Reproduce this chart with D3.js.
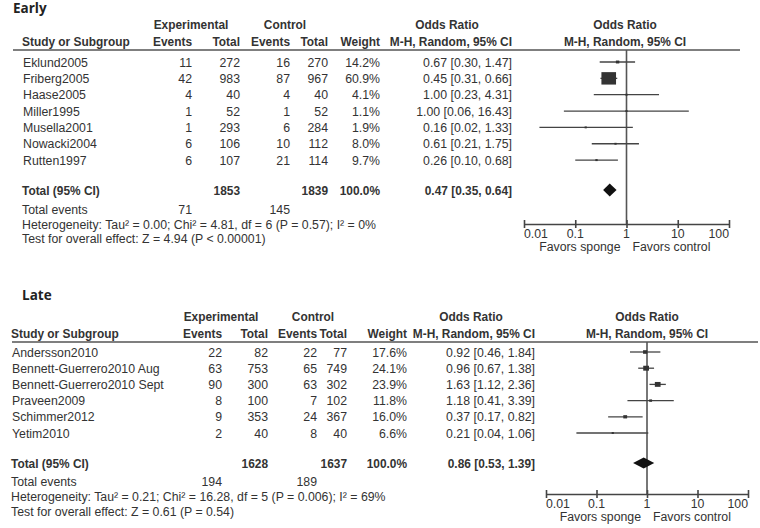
<!DOCTYPE html>
<html>
<head>
<meta charset="utf-8">
<script src="https://cdn.jsdelivr.net/npm/d3@7/dist/d3.min.js"></script>
<style>
body{margin:0;background:#fff;}
svg{display:block;}
text{font-family:"Liberation Sans",Arial,sans-serif;font-size:12.3px;fill:#333;}
.b{font-weight:bold;font-size:11.9px;}
.title{font-family:"Open Sans",sans-serif;font-size:13.5px;font-weight:bold;fill:#222;}
</style>
</head>
<body>
<svg id="chart" width="760" height="528"></svg>
<script>
// ---------- DATA ----------
const earlyStudies = ["Eklund2005","Friberg2005","Haase2005","Miller1995","Musella2001","Nowacki2004","Rutten1997"];
const earlyExpEvents = [11,42,4,1,1,6,6];
const earlyExpTotal = [272,983,40,52,293,106,107];
const earlyCtlEvents = [16,87,4,1,6,10,21];
const earlyCtlTotal = [270,967,40,52,284,112,114];
const earlyWeight = [14.2,60.9,4.1,1.1,1.9,8.0,9.7];
const earlyOR = [0.67,0.45,1.00,1.00,0.16,0.61,0.26];
const earlyLo = [0.30,0.31,0.23,0.06,0.02,0.21,0.10];
const earlyHi = [1.47,0.66,4.31,16.43,1.33,1.75,0.68];
const earlyTotal = {exp:1853, ctl:1839, weight:"100.0%", or:0.47, lo:0.35, hi:0.64, expEv:71, ctlEv:145};
const earlyHet = "Heterogeneity: Tau\u00B2 = 0.00; Chi\u00B2 = 4.81, df = 6 (P = 0.57); I\u00B2 = 0%";
const earlyTest = "Test for overall effect: Z = 4.94 (P < 0.00001)";

const lateStudies = ["Andersson2010","Bennett-Guerrero2010 Aug","Bennett-Guerrero2010 Sept","Praveen2009","Schimmer2012","Yetim2010"];
const lateExpEvents = [22,63,90,8,9,2];
const lateExpTotal = [82,753,300,100,353,40];
const lateCtlEvents = [22,65,63,7,24,8];
const lateCtlTotal = [77,749,302,102,367,40];
const lateWeight = [17.6,24.1,23.9,11.8,16.0,6.6];
const lateOR = [0.92,0.96,1.63,1.18,0.37,0.21];
const lateLo = [0.46,0.67,1.12,0.41,0.17,0.04];
const lateHi = [1.84,1.38,2.36,3.39,0.82,1.06];
const lateTotal = {exp:1628, ctl:1637, weight:"100.0%", or:0.86, lo:0.53, hi:1.39, expEv:194, ctlEv:189};
const lateHet = "Heterogeneity: Tau\u00B2 = 0.21; Chi\u00B2 = 16.28, df = 5 (P = 0.006); I\u00B2 = 69%";
const lateTest = "Test for overall effect: Z = 0.61 (P = 0.54)";

const tickValues = [0.01,0.1,1,10,100];
const tickLabels = ["0.01","0.1","1","10","100"];
const favorLeft = "Favors sponge";
const favorRight = "Favors control";

// ---------- DRAW ----------
const svg = d3.select("#chart");
const fmt2 = d3.format(".2f");

function drawPanel(p){
  const g = svg.append("g");
  const n = p.studies.length;
  g.append("text").attr("class","title").attr("x",p.titleX).attr("y",p.titleY).text(p.title);
  // headers
  g.append("text").attr("class","b").attr("x",p.expC).attr("y",p.h1).attr("text-anchor","middle").text("Experimental");
  g.append("text").attr("class","b").attr("x",p.ctlC).attr("y",p.h1).attr("text-anchor","middle").text("Control");
  g.append("text").attr("class","b").attr("x",p.orC).attr("y",p.h1).attr("text-anchor","middle").text("Odds Ratio");
  g.append("text").attr("class","b").attr("x",p.plotC).attr("y",p.h1).attr("text-anchor","middle").text("Odds Ratio");
  g.append("text").attr("class","b").attr("x",p.nameX).attr("y",p.h2).text("Study or Subgroup");
  const hdr2 = [[p.c1,"Events"],[p.c2,"Total"],[p.c3,"Events"],[p.c4,"Total"],[p.c5,"Weight"]];
  hdr2.forEach(d=>g.append("text").attr("class","b").attr("x",d[0]).attr("y",p.h2).attr("text-anchor","end").text(d[1]));
  g.append("text").attr("class","b").attr("x",p.orR).attr("y",p.h2).attr("text-anchor","end").text("M-H, Random, 95% CI");
  g.append("text").attr("class","b").attr("x",p.plotC).attr("y",p.h2).attr("text-anchor","middle").text("M-H, Random, 95% CI");
  g.append("line").attr("x1",p.lineX1).attr("x2",p.lineX2).attr("y1",p.lineY).attr("y2",p.lineY)
    .attr("stroke","#555").attr("stroke-width",1.6);

  const y = d3.scaleLinear().domain([0,n-1]).range([p.row0,p.row0+p.step*(n-1)]);
  const x = d3.scaleLog().domain([0.01,100]).range([p.ax0,p.ax1]);

  // rows
  for(let i=0;i<n;i++){
    const yy = y(i)+4.5;
    g.append("text").attr("x",p.nameX+1).attr("y",yy).text(p.studies[i]);
    [[p.c1,p.expEv[i]],[p.c2,p.expTot[i]],[p.c3,p.ctlEv[i]],[p.c4,p.ctlTot[i]],[p.c5,p.weight[i].toFixed(1)+"%"]]
      .forEach(d=>g.append("text").attr("x",d[0]).attr("y",yy).attr("text-anchor","end").text(d[1]));
    g.append("text").attr("x",p.orR).attr("y",yy).attr("text-anchor","end")
      .text(fmt2(p.or[i])+" ["+fmt2(p.lo[i])+", "+fmt2(p.hi[i])+"]");
  }
  // total row
  const t = p.total;
  const ty = p.totalY+4.5;
  g.append("text").attr("class","b").attr("x",p.nameX).attr("y",ty).text("Total (95% CI)");
  g.append("text").attr("class","b").attr("x",p.c2).attr("y",ty).attr("text-anchor","end").text(t.exp);
  g.append("text").attr("class","b").attr("x",p.c4).attr("y",ty).attr("text-anchor","end").text(t.ctl);
  g.append("text").attr("class","b").attr("x",p.c5).attr("y",ty).attr("text-anchor","end").text(t.weight);
  g.append("text").attr("class","b").attr("x",p.orR).attr("y",ty).attr("text-anchor","end")
    .text(fmt2(t.or)+" ["+fmt2(t.lo)+", "+fmt2(t.hi)+"]");
  g.append("text").attr("x",p.nameX).attr("y",p.evY).text("Total events");
  g.append("text").attr("x",p.c1).attr("y",p.evY).attr("text-anchor","end").text(t.expEv);
  g.append("text").attr("x",p.c3).attr("y",p.evY).attr("text-anchor","end").text(t.ctlEv);
  g.append("text").attr("x",p.nameX).attr("y",p.hetY).text(p.het);
  g.append("text").attr("x",p.nameX).attr("y",p.testY).text(p.test);

  // plot: null line
  g.append("line").attr("x1",x(1)).attr("x2",x(1)).attr("y1",p.lineY).attr("y2",p.axisY)
    .attr("stroke","#555").attr("stroke-width",1.6);
  // CI lines and squares
  const rows = d3.range(n);
  g.selectAll("line.ci").data(rows).join("line").attr("class","ci")
    .attr("x1",i=>x(p.lo[i])).attr("x2",i=>x(p.hi[i])).attr("y1",i=>y(i)).attr("y2",i=>y(i))
    .attr("stroke","#444").attr("stroke-width",1.3);
  const sz = w => Math.max(2.2, 0.24*w);
  g.selectAll("rect.sq").data(rows).join("rect").attr("class","sq")
    .attr("x",i=>x(p.or[i])-sz(p.weight[i])/2).attr("y",i=>y(i)-sz(p.weight[i])/2*0.85)
    .attr("width",i=>sz(p.weight[i])).attr("height",i=>sz(p.weight[i])*0.85)
    .attr("fill","#333");
  // diamond
  const dh = p.diamondH;
  g.append("path").attr("d",`M${x(t.lo)},${p.totalY}L${x(t.or)},${p.totalY-dh}L${x(t.hi)},${p.totalY}L${x(t.or)},${p.totalY+dh}Z`)
    .attr("fill","#111");
  // axis
  const axis = d3.axisBottom(x).tickValues(tickValues).tickSize(0).tickFormat("");
  const ag = g.append("g").attr("transform",`translate(0,${p.axisY})`).call(axis);
  ag.select(".domain").attr("stroke","#444").attr("stroke-width",1.6);
  ag.selectAll(".tick").append("line").attr("y1",-4).attr("y2",4).attr("stroke","#444").attr("stroke-width",1.6);
  tickValues.forEach((v,i)=>{
    const anchor = i===0?"start":(i===tickValues.length-1?"end":"middle");
    g.append("text").attr("x",x(v)).attr("y",p.axisY+14).attr("text-anchor",anchor).text(tickLabels[i]);
  });
  g.append("text").attr("x",x(1)-6).attr("y",p.axisY+27).attr("text-anchor","end").text(favorLeft);
  g.append("text").attr("x",x(1)+6).attr("y",p.axisY+27).attr("text-anchor","start").text(favorRight);
}

drawPanel({
  title:"Early", titleX:13, titleY:13,
  studies:earlyStudies, expEv:earlyExpEvents, expTot:earlyExpTotal, ctlEv:earlyCtlEvents, ctlTot:earlyCtlTotal,
  weight:earlyWeight, or:earlyOR, lo:earlyLo, hi:earlyHi, total:earlyTotal, het:earlyHet, test:earlyTest,
  h1:29, h2:46, lineY:50, lineX1:13, lineX2:740,
  nameX:22, c1:192, c2:240, c3:290, c4:328, c5:380, orR:512, orC:447, expC:191, ctlC:285, plotC:625,
  row0:62, step:16.35, totalY:190, evY:214, hetY:229, testY:243,
  ax0:524, ax1:729, axisY:224, diamondH:6.5
});
drawPanel({
  title:"Late", titleX:22, titleY:300,
  studies:lateStudies, expEv:lateExpEvents, expTot:lateExpTotal, ctlEv:lateCtlEvents, ctlTot:lateCtlTotal,
  weight:lateWeight, or:lateOR, lo:lateLo, hi:lateHi, total:lateTotal, het:lateHet, test:lateTest,
  h1:321, h2:338, lineY:342, lineX1:12, lineX2:758,
  nameX:11, c1:222, c2:268, c3:317, c4:347, c5:407, orR:535, orC:471, expC:221, ctlC:313, plotC:647,
  row0:352, step:16.2, totalY:463, evY:486, hetY:501, testY:516,
  ax0:546, ax1:748, axisY:494, diamondH:5.5
});
</script>
</body>
</html>
